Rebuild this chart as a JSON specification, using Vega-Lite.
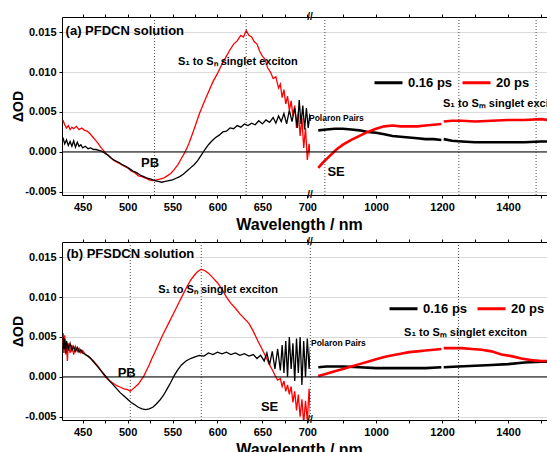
{
"$schema": "https://vega.github.io/schema/vega-lite/v6.json",
"padding": {"left": 11, "top": 12, "right": 0, "bottom": 26},
"background": "white",
"config": {
  "view": {"stroke": null},
  "font": "Liberation Sans",
  "axis": {"labelFont": "Liberation Sans", "labelFontWeight": "bold", "labelFontSize": 11, "labelColor": "black", "titleFont": "Liberation Sans", "titleFontWeight": "bold", "titleColor": "black", "domainColor": "black", "tickColor": "black", "gridColor": "#dadada", "tickSize": 3, "labelPadding": 3},
  "text": {"font": "Liberation Sans", "fontWeight": "bold", "color": "black"}
},
"datasets": {
"aL": [
{"t":"20 ps","w":428,"v":0.0040},{"t":"20 ps","w":430,"v":0.0034},{"t":"20 ps","w":432,"v":0.0030},{"t":"20 ps","w":434,"v":0.0033},{"t":"20 ps","w":436,"v":0.0028},{"t":"20 ps","w":438,"v":0.0031},{"t":"20 ps","w":440,"v":0.0029},{"t":"20 ps","w":443,"v":0.0032},{"t":"20 ps","w":446,"v":0.0028},{"t":"20 ps","w":449,"v":0.0030},{"t":"20 ps","w":452,"v":0.0027},{"t":"20 ps","w":455,"v":0.0026},{"t":"20 ps","w":458,"v":0.0023},{"t":"20 ps","w":461,"v":0.0019},{"t":"20 ps","w":464,"v":0.0015},{"t":"20 ps","w":467,"v":0.0011},{"t":"20 ps","w":470,"v":0.0006},{"t":"20 ps","w":473,"v":0.0002},{"t":"20 ps","w":476,"v":-0.0002},{"t":"20 ps","w":480,"v":-0.0006},{"t":"20 ps","w":484,"v":-0.0010},{"t":"20 ps","w":488,"v":-0.0013},{"t":"20 ps","w":492,"v":-0.0015},{"t":"20 ps","w":496,"v":-0.0018},{"t":"20 ps","w":500,"v":-0.0020},{"t":"20 ps","w":504,"v":-0.0024},{"t":"20 ps","w":508,"v":-0.0026},{"t":"20 ps","w":512,"v":-0.0030},{"t":"20 ps","w":516,"v":-0.0031},{"t":"20 ps","w":520,"v":-0.0033},{"t":"20 ps","w":524,"v":-0.0035},{"t":"20 ps","w":528,"v":-0.0036},{"t":"20 ps","w":532,"v":-0.0035},{"t":"20 ps","w":536,"v":-0.0034},{"t":"20 ps","w":540,"v":-0.0033},{"t":"20 ps","w":544,"v":-0.0030},{"t":"20 ps","w":548,"v":-0.0027},{"t":"20 ps","w":552,"v":-0.0022},{"t":"20 ps","w":556,"v":-0.0016},{"t":"20 ps","w":560,"v":-0.0008},{"t":"20 ps","w":564,"v":0.0000},{"t":"20 ps","w":568,"v":0.0010},{"t":"20 ps","w":572,"v":0.0022},{"t":"20 ps","w":576,"v":0.0035},{"t":"20 ps","w":580,"v":0.0048},{"t":"20 ps","w":585,"v":0.0062},{"t":"20 ps","w":590,"v":0.0075},{"t":"20 ps","w":595,"v":0.0088},{"t":"20 ps","w":600,"v":0.0098},{"t":"20 ps","w":605,"v":0.0110},{"t":"20 ps","w":610,"v":0.0120},{"t":"20 ps","w":614,"v":0.0128},{"t":"20 ps","w":618,"v":0.0135},{"t":"20 ps","w":622,"v":0.0139},{"t":"20 ps","w":626,"v":0.0146},{"t":"20 ps","w":629,"v":0.0144},{"t":"20 ps","w":632,"v":0.0152},{"t":"20 ps","w":635,"v":0.0146},{"t":"20 ps","w":638,"v":0.0144},{"t":"20 ps","w":641,"v":0.0138},{"t":"20 ps","w":644,"v":0.0135},{"t":"20 ps","w":647,"v":0.0126},{"t":"20 ps","w":650,"v":0.0120},{"t":"20 ps","w":653,"v":0.0116},{"t":"20 ps","w":656,"v":0.0105},{"t":"20 ps","w":659,"v":0.0100},{"t":"20 ps","w":662,"v":0.0092},{"t":"20 ps","w":665,"v":0.0094},{"t":"20 ps","w":668,"v":0.0080},{"t":"20 ps","w":670,"v":0.0085},{"t":"20 ps","w":672,"v":0.0068},{"t":"20 ps","w":674,"v":0.0078},{"t":"20 ps","w":676,"v":0.0060},{"t":"20 ps","w":678,"v":0.0070},{"t":"20 ps","w":680,"v":0.0052},{"t":"20 ps","w":682,"v":0.0064},{"t":"20 ps","w":684,"v":0.0045},{"t":"20 ps","w":686,"v":0.0058},{"t":"20 ps","w":688,"v":0.0030},{"t":"20 ps","w":690,"v":0.0050},{"t":"20 ps","w":692,"v":0.0020},{"t":"20 ps","w":694,"v":0.0042},{"t":"20 ps","w":696,"v":0.0005},{"t":"20 ps","w":698,"v":0.0030},{"t":"20 ps","w":700,"v":-0.0010},{"t":"20 ps","w":702,"v":0.0010},{"t":"20 ps","w":704,"v":-0.0012},
{"t":"0.16 ps","w":428,"v":0.0018},{"t":"0.16 ps","w":430,"v":0.0010},{"t":"0.16 ps","w":432,"v":0.0015},{"t":"0.16 ps","w":434,"v":0.0008},{"t":"0.16 ps","w":436,"v":0.0013},{"t":"0.16 ps","w":438,"v":0.0007},{"t":"0.16 ps","w":440,"v":0.0014},{"t":"0.16 ps","w":442,"v":0.0006},{"t":"0.16 ps","w":444,"v":0.0012},{"t":"0.16 ps","w":446,"v":0.0007},{"t":"0.16 ps","w":448,"v":0.0009},{"t":"0.16 ps","w":450,"v":0.0005},{"t":"0.16 ps","w":453,"v":0.0007},{"t":"0.16 ps","w":456,"v":0.0004},{"t":"0.16 ps","w":459,"v":0.0005},{"t":"0.16 ps","w":462,"v":0.0003},{"t":"0.16 ps","w":465,"v":0.0003},{"t":"0.16 ps","w":468,"v":0.0002},{"t":"0.16 ps","w":471,"v":0.0001},{"t":"0.16 ps","w":474,"v":-0.0001},{"t":"0.16 ps","w":478,"v":-0.0004},{"t":"0.16 ps","w":482,"v":-0.0008},{"t":"0.16 ps","w":486,"v":-0.0011},{"t":"0.16 ps","w":490,"v":-0.0013},{"t":"0.16 ps","w":494,"v":-0.0016},{"t":"0.16 ps","w":498,"v":-0.0018},{"t":"0.16 ps","w":502,"v":-0.0021},{"t":"0.16 ps","w":506,"v":-0.0024},{"t":"0.16 ps","w":510,"v":-0.0026},{"t":"0.16 ps","w":514,"v":-0.0029},{"t":"0.16 ps","w":518,"v":-0.0031},{"t":"0.16 ps","w":522,"v":-0.0033},{"t":"0.16 ps","w":526,"v":-0.0034},{"t":"0.16 ps","w":530,"v":-0.0036},{"t":"0.16 ps","w":534,"v":-0.0037},{"t":"0.16 ps","w":538,"v":-0.0038},{"t":"0.16 ps","w":542,"v":-0.0037},{"t":"0.16 ps","w":546,"v":-0.0036},{"t":"0.16 ps","w":550,"v":-0.0035},{"t":"0.16 ps","w":554,"v":-0.0033},{"t":"0.16 ps","w":558,"v":-0.0031},{"t":"0.16 ps","w":562,"v":-0.0028},{"t":"0.16 ps","w":566,"v":-0.0024},{"t":"0.16 ps","w":570,"v":-0.0020},{"t":"0.16 ps","w":574,"v":-0.0016},{"t":"0.16 ps","w":578,"v":-0.0011},{"t":"0.16 ps","w":582,"v":-0.0004},{"t":"0.16 ps","w":586,"v":0.0003},{"t":"0.16 ps","w":590,"v":0.0009},{"t":"0.16 ps","w":594,"v":0.0014},{"t":"0.16 ps","w":598,"v":0.0018},{"t":"0.16 ps","w":602,"v":0.0021},{"t":"0.16 ps","w":606,"v":0.0025},{"t":"0.16 ps","w":610,"v":0.0026},{"t":"0.16 ps","w":614,"v":0.0030},{"t":"0.16 ps","w":618,"v":0.0029},{"t":"0.16 ps","w":622,"v":0.0033},{"t":"0.16 ps","w":626,"v":0.0031},{"t":"0.16 ps","w":630,"v":0.0035},{"t":"0.16 ps","w":634,"v":0.0033},{"t":"0.16 ps","w":638,"v":0.0036},{"t":"0.16 ps","w":642,"v":0.0034},{"t":"0.16 ps","w":646,"v":0.0039},{"t":"0.16 ps","w":650,"v":0.0035},{"t":"0.16 ps","w":654,"v":0.0040},{"t":"0.16 ps","w":658,"v":0.0037},{"t":"0.16 ps","w":662,"v":0.0043},{"t":"0.16 ps","w":665,"v":0.0036},{"t":"0.16 ps","w":668,"v":0.0045},{"t":"0.16 ps","w":671,"v":0.0038},{"t":"0.16 ps","w":674,"v":0.0048},{"t":"0.16 ps","w":677,"v":0.0035},{"t":"0.16 ps","w":680,"v":0.0052},{"t":"0.16 ps","w":683,"v":0.0038},{"t":"0.16 ps","w":686,"v":0.0055},{"t":"0.16 ps","w":689,"v":0.0030},{"t":"0.16 ps","w":691,"v":0.0065},{"t":"0.16 ps","w":693,"v":0.0035},{"t":"0.16 ps","w":695,"v":0.0058},{"t":"0.16 ps","w":697,"v":0.0028},{"t":"0.16 ps","w":699,"v":0.0055},{"t":"0.16 ps","w":701,"v":0.0030},{"t":"0.16 ps","w":703,"v":0.0048},{"t":"0.16 ps","w":705,"v":0.0040}
],
"aR": [
{"t":"0.16 ps","g":1,"w":825,"v":0.0027},{"t":"0.16 ps","g":1,"w":850,"v":0.0028},{"t":"0.16 ps","g":1,"w":875,"v":0.0029},{"t":"0.16 ps","g":1,"w":900,"v":0.0029},{"t":"0.16 ps","g":1,"w":925,"v":0.0028},{"t":"0.16 ps","g":1,"w":950,"v":0.0027},{"t":"0.16 ps","g":1,"w":975,"v":0.0025},{"t":"0.16 ps","g":1,"w":1000,"v":0.0024},{"t":"0.16 ps","g":1,"w":1025,"v":0.0022},{"t":"0.16 ps","g":1,"w":1050,"v":0.0020},{"t":"0.16 ps","g":1,"w":1075,"v":0.0019},{"t":"0.16 ps","g":1,"w":1100,"v":0.0018},{"t":"0.16 ps","g":1,"w":1125,"v":0.0017},{"t":"0.16 ps","g":1,"w":1150,"v":0.0016},{"t":"0.16 ps","g":1,"w":1175,"v":0.0016},{"t":"0.16 ps","g":1,"w":1198,"v":0.0015},
{"t":"0.16 ps","g":2,"w":1205,"v":0.0016},{"t":"0.16 ps","g":2,"w":1230,"v":0.0014},{"t":"0.16 ps","g":2,"w":1260,"v":0.0013},{"t":"0.16 ps","g":2,"w":1300,"v":0.0012},{"t":"0.16 ps","g":2,"w":1350,"v":0.0012},{"t":"0.16 ps","g":2,"w":1400,"v":0.0012},{"t":"0.16 ps","g":2,"w":1450,"v":0.0012},{"t":"0.16 ps","g":2,"w":1500,"v":0.0013},{"t":"0.16 ps","g":2,"w":1520,"v":0.0013},
{"t":"20 ps","g":1,"w":825,"v":-0.0020},{"t":"20 ps","g":1,"w":840,"v":-0.0013},{"t":"20 ps","g":1,"w":860,"v":-0.0005},{"t":"20 ps","g":1,"w":880,"v":0.0003},{"t":"20 ps","g":1,"w":900,"v":0.0009},{"t":"20 ps","g":1,"w":925,"v":0.0015},{"t":"20 ps","g":1,"w":950,"v":0.0020},{"t":"20 ps","g":1,"w":975,"v":0.0025},{"t":"20 ps","g":1,"w":1000,"v":0.0029},{"t":"20 ps","g":1,"w":1025,"v":0.0032},{"t":"20 ps","g":1,"w":1050,"v":0.0033},{"t":"20 ps","g":1,"w":1075,"v":0.0032},{"t":"20 ps","g":1,"w":1100,"v":0.0032},{"t":"20 ps","g":1,"w":1125,"v":0.0032},{"t":"20 ps","g":1,"w":1150,"v":0.0033},{"t":"20 ps","g":1,"w":1175,"v":0.0034},{"t":"20 ps","g":1,"w":1198,"v":0.0035},
{"t":"20 ps","g":2,"w":1205,"v":0.0038},{"t":"20 ps","g":2,"w":1230,"v":0.0039},{"t":"20 ps","g":2,"w":1260,"v":0.0039},{"t":"20 ps","g":2,"w":1300,"v":0.0038},{"t":"20 ps","g":2,"w":1350,"v":0.0039},{"t":"20 ps","g":2,"w":1400,"v":0.0040},{"t":"20 ps","g":2,"w":1450,"v":0.0040},{"t":"20 ps","g":2,"w":1500,"v":0.0041},{"t":"20 ps","g":2,"w":1520,"v":0.0040}
],
"bL": [
{"t":"20 ps","w":428,"v":0.0050},{"t":"20 ps","w":429,"v":0.0030},{"t":"20 ps","w":430,"v":0.0052},{"t":"20 ps","w":431,"v":0.0028},{"t":"20 ps","w":432,"v":0.0045},{"t":"20 ps","w":433,"v":0.0020},{"t":"20 ps","w":434,"v":0.0042},{"t":"20 ps","w":436,"v":0.0030},{"t":"20 ps","w":438,"v":0.0040},{"t":"20 ps","w":440,"v":0.0028},{"t":"20 ps","w":442,"v":0.0038},{"t":"20 ps","w":444,"v":0.0032},{"t":"20 ps","w":446,"v":0.0036},{"t":"20 ps","w":448,"v":0.0030},{"t":"20 ps","w":450,"v":0.0033},{"t":"20 ps","w":453,"v":0.0028},{"t":"20 ps","w":456,"v":0.0026},{"t":"20 ps","w":459,"v":0.0023},{"t":"20 ps","w":462,"v":0.0020},{"t":"20 ps","w":465,"v":0.0016},{"t":"20 ps","w":468,"v":0.0012},{"t":"20 ps","w":471,"v":0.0007},{"t":"20 ps","w":474,"v":0.0002},{"t":"20 ps","w":477,"v":-0.0002},{"t":"20 ps","w":480,"v":-0.0005},{"t":"20 ps","w":484,"v":-0.0008},{"t":"20 ps","w":488,"v":-0.0011},{"t":"20 ps","w":492,"v":-0.0013},{"t":"20 ps","w":496,"v":-0.0015},{"t":"20 ps","w":500,"v":-0.0016},{"t":"20 ps","w":503,"v":-0.0018},{"t":"20 ps","w":506,"v":-0.0015},{"t":"20 ps","w":509,"v":-0.0012},{"t":"20 ps","w":512,"v":-0.0009},{"t":"20 ps","w":515,"v":-0.0004},{"t":"20 ps","w":518,"v":0.0001},{"t":"20 ps","w":521,"v":0.0008},{"t":"20 ps","w":524,"v":0.0015},{"t":"20 ps","w":527,"v":0.0023},{"t":"20 ps","w":530,"v":0.0030},{"t":"20 ps","w":534,"v":0.0040},{"t":"20 ps","w":538,"v":0.0050},{"t":"20 ps","w":542,"v":0.0059},{"t":"20 ps","w":546,"v":0.0068},{"t":"20 ps","w":550,"v":0.0077},{"t":"20 ps","w":554,"v":0.0086},{"t":"20 ps","w":558,"v":0.0095},{"t":"20 ps","w":562,"v":0.0104},{"t":"20 ps","w":566,"v":0.0113},{"t":"20 ps","w":570,"v":0.0121},{"t":"20 ps","w":574,"v":0.0127},{"t":"20 ps","w":578,"v":0.0132},{"t":"20 ps","w":582,"v":0.0135},{"t":"20 ps","w":586,"v":0.0133},{"t":"20 ps","w":590,"v":0.0130},{"t":"20 ps","w":595,"v":0.0124},{"t":"20 ps","w":600,"v":0.0118},{"t":"20 ps","w":605,"v":0.0110},{"t":"20 ps","w":610,"v":0.0100},{"t":"20 ps","w":615,"v":0.0092},{"t":"20 ps","w":620,"v":0.0086},{"t":"20 ps","w":625,"v":0.0079},{"t":"20 ps","w":630,"v":0.0073},{"t":"20 ps","w":635,"v":0.0067},{"t":"20 ps","w":640,"v":0.0057},{"t":"20 ps","w":645,"v":0.0045},{"t":"20 ps","w":650,"v":0.0034},{"t":"20 ps","w":654,"v":0.0025},{"t":"20 ps","w":658,"v":0.0015},{"t":"20 ps","w":661,"v":0.0009},{"t":"20 ps","w":664,"v":0.0002},{"t":"20 ps","w":667,"v":-0.0004},{"t":"20 ps","w":670,"v":-0.0002},{"t":"20 ps","w":672,"v":-0.0012},{"t":"20 ps","w":674,"v":-0.0005},{"t":"20 ps","w":676,"v":-0.0018},{"t":"20 ps","w":678,"v":-0.0010},{"t":"20 ps","w":680,"v":-0.0022},{"t":"20 ps","w":682,"v":-0.0012},{"t":"20 ps","w":684,"v":-0.0032},{"t":"20 ps","w":686,"v":-0.0018},{"t":"20 ps","w":688,"v":-0.0042},{"t":"20 ps","w":690,"v":-0.0022},{"t":"20 ps","w":692,"v":-0.0050},{"t":"20 ps","w":694,"v":-0.0028},{"t":"20 ps","w":696,"v":-0.0058},{"t":"20 ps","w":698,"v":-0.0030},{"t":"20 ps","w":700,"v":-0.0055},{"t":"20 ps","w":702,"v":-0.0015},{"t":"20 ps","w":704,"v":-0.0058},
{"t":"0.16 ps","w":428,"v":0.0055},{"t":"0.16 ps","w":429,"v":0.0035},{"t":"0.16 ps","w":430,"v":0.0048},{"t":"0.16 ps","w":431,"v":0.0030},{"t":"0.16 ps","w":432,"v":0.0045},{"t":"0.16 ps","w":434,"v":0.0035},{"t":"0.16 ps","w":436,"v":0.0042},{"t":"0.16 ps","w":438,"v":0.0033},{"t":"0.16 ps","w":440,"v":0.0038},{"t":"0.16 ps","w":442,"v":0.0032},{"t":"0.16 ps","w":444,"v":0.0037},{"t":"0.16 ps","w":446,"v":0.0031},{"t":"0.16 ps","w":448,"v":0.0034},{"t":"0.16 ps","w":450,"v":0.0030},{"t":"0.16 ps","w":453,"v":0.0028},{"t":"0.16 ps","w":456,"v":0.0026},{"t":"0.16 ps","w":459,"v":0.0023},{"t":"0.16 ps","w":462,"v":0.0019},{"t":"0.16 ps","w":465,"v":0.0015},{"t":"0.16 ps","w":468,"v":0.0011},{"t":"0.16 ps","w":471,"v":0.0007},{"t":"0.16 ps","w":474,"v":0.0003},{"t":"0.16 ps","w":477,"v":-0.0001},{"t":"0.16 ps","w":480,"v":-0.0005},{"t":"0.16 ps","w":484,"v":-0.0010},{"t":"0.16 ps","w":488,"v":-0.0015},{"t":"0.16 ps","w":492,"v":-0.0020},{"t":"0.16 ps","w":496,"v":-0.0024},{"t":"0.16 ps","w":500,"v":-0.0028},{"t":"0.16 ps","w":504,"v":-0.0032},{"t":"0.16 ps","w":508,"v":-0.0035},{"t":"0.16 ps","w":512,"v":-0.0038},{"t":"0.16 ps","w":516,"v":-0.0040},{"t":"0.16 ps","w":520,"v":-0.0041},{"t":"0.16 ps","w":524,"v":-0.0040},{"t":"0.16 ps","w":528,"v":-0.0038},{"t":"0.16 ps","w":532,"v":-0.0034},{"t":"0.16 ps","w":536,"v":-0.0029},{"t":"0.16 ps","w":540,"v":-0.0023},{"t":"0.16 ps","w":544,"v":-0.0015},{"t":"0.16 ps","w":548,"v":-0.0007},{"t":"0.16 ps","w":552,"v":0.0002},{"t":"0.16 ps","w":556,"v":0.0009},{"t":"0.16 ps","w":560,"v":0.0015},{"t":"0.16 ps","w":565,"v":0.0020},{"t":"0.16 ps","w":570,"v":0.0023},{"t":"0.16 ps","w":575,"v":0.0025},{"t":"0.16 ps","w":580,"v":0.0027},{"t":"0.16 ps","w":585,"v":0.0026},{"t":"0.16 ps","w":590,"v":0.0030},{"t":"0.16 ps","w":595,"v":0.0028},{"t":"0.16 ps","w":600,"v":0.0031},{"t":"0.16 ps","w":605,"v":0.0029},{"t":"0.16 ps","w":610,"v":0.0031},{"t":"0.16 ps","w":615,"v":0.0028},{"t":"0.16 ps","w":620,"v":0.0030},{"t":"0.16 ps","w":625,"v":0.0027},{"t":"0.16 ps","w":630,"v":0.0029},{"t":"0.16 ps","w":635,"v":0.0026},{"t":"0.16 ps","w":640,"v":0.0028},{"t":"0.16 ps","w":644,"v":0.0023},{"t":"0.16 ps","w":648,"v":0.0027},{"t":"0.16 ps","w":652,"v":0.0020},{"t":"0.16 ps","w":655,"v":0.0030},{"t":"0.16 ps","w":658,"v":0.0015},{"t":"0.16 ps","w":661,"v":0.0032},{"t":"0.16 ps","w":664,"v":0.0010},{"t":"0.16 ps","w":667,"v":0.0035},{"t":"0.16 ps","w":670,"v":0.0008},{"t":"0.16 ps","w":672,"v":0.0040},{"t":"0.16 ps","w":674,"v":0.0005},{"t":"0.16 ps","w":676,"v":0.0045},{"t":"0.16 ps","w":678,"v":0.0000},{"t":"0.16 ps","w":680,"v":0.0050},{"t":"0.16 ps","w":682,"v":0.0010},{"t":"0.16 ps","w":684,"v":0.0042},{"t":"0.16 ps","w":686,"v":-0.0005},{"t":"0.16 ps","w":688,"v":0.0048},{"t":"0.16 ps","w":690,"v":0.0005},{"t":"0.16 ps","w":692,"v":0.0050},{"t":"0.16 ps","w":694,"v":-0.0010},{"t":"0.16 ps","w":696,"v":0.0045},{"t":"0.16 ps","w":698,"v":0.0000},{"t":"0.16 ps","w":700,"v":0.0048},{"t":"0.16 ps","w":702,"v":0.0010},{"t":"0.16 ps","w":704,"v":0.0045}
],
"bR": [
{"t":"0.16 ps","g":1,"w":825,"v":0.0012},{"t":"0.16 ps","g":1,"w":850,"v":0.0013},{"t":"0.16 ps","g":1,"w":900,"v":0.0013},{"t":"0.16 ps","g":1,"w":950,"v":0.0012},{"t":"0.16 ps","g":1,"w":1000,"v":0.0011},{"t":"0.16 ps","g":1,"w":1050,"v":0.0011},{"t":"0.16 ps","g":1,"w":1100,"v":0.0011},{"t":"0.16 ps","g":1,"w":1150,"v":0.0011},{"t":"0.16 ps","g":1,"w":1198,"v":0.0012},
{"t":"0.16 ps","g":2,"w":1205,"v":0.0012},{"t":"0.16 ps","g":2,"w":1250,"v":0.0013},{"t":"0.16 ps","g":2,"w":1300,"v":0.0014},{"t":"0.16 ps","g":2,"w":1350,"v":0.0015},{"t":"0.16 ps","g":2,"w":1400,"v":0.0016},{"t":"0.16 ps","g":2,"w":1450,"v":0.0018},{"t":"0.16 ps","g":2,"w":1500,"v":0.0019},{"t":"0.16 ps","g":2,"w":1520,"v":0.0019},
{"t":"20 ps","g":1,"w":825,"v":0.0001},{"t":"20 ps","g":1,"w":850,"v":0.0004},{"t":"20 ps","g":1,"w":875,"v":0.0007},{"t":"20 ps","g":1,"w":900,"v":0.0010},{"t":"20 ps","g":1,"w":925,"v":0.0013},{"t":"20 ps","g":1,"w":950,"v":0.0016},{"t":"20 ps","g":1,"w":975,"v":0.0019},{"t":"20 ps","g":1,"w":1000,"v":0.0022},{"t":"20 ps","g":1,"w":1025,"v":0.0025},{"t":"20 ps","g":1,"w":1050,"v":0.0027},{"t":"20 ps","g":1,"w":1075,"v":0.0029},{"t":"20 ps","g":1,"w":1100,"v":0.0031},{"t":"20 ps","g":1,"w":1125,"v":0.0032},{"t":"20 ps","g":1,"w":1150,"v":0.0033},{"t":"20 ps","g":1,"w":1175,"v":0.0034},{"t":"20 ps","g":1,"w":1198,"v":0.0035},
{"t":"20 ps","g":2,"w":1205,"v":0.0036},{"t":"20 ps","g":2,"w":1230,"v":0.0036},{"t":"20 ps","g":2,"w":1260,"v":0.0036},{"t":"20 ps","g":2,"w":1290,"v":0.0035},{"t":"20 ps","g":2,"w":1320,"v":0.0034},{"t":"20 ps","g":2,"w":1350,"v":0.0032},{"t":"20 ps","g":2,"w":1380,"v":0.0028},{"t":"20 ps","g":2,"w":1410,"v":0.0026},{"t":"20 ps","g":2,"w":1440,"v":0.0023},{"t":"20 ps","g":2,"w":1470,"v":0.0021},{"t":"20 ps","g":2,"w":1500,"v":0.0020},{"t":"20 ps","g":2,"w":1520,"v":0.0020}
]
},
"spacing": 5,
"resolve": {"scale": {"color": "independent"}},
"vconcat": [
{
"hconcat": [
{
"width": 248, "height": 178,
"data": {"name": "aL"},
"layer": [
{"mark": {"type": "line", "strokeWidth": 1.3, "clip": true}, "encoding": {
  "x": {"field": "w", "type": "quantitative", "scale": {"domain": [427, 703], "nice": false, "zero": false}, "axis": {"orient": "bottom", "values": [450,475,500,525,550,575,600,625,650,675,700], "format": "d", "labelExpr": "datum.value % 50 == 0 ? datum.label : ''", "title": "Wavelength / nm", "titleFontSize": 16, "titleX": 237, "titleAlign": "center", "grid": false}},
  "y": {"field": "v", "type": "quantitative", "scale": {"domain": [-0.0054, 0.0169], "nice": false, "zero": false}, "axis": {"values": [-0.005, -0.0025, 0, 0.0025, 0.005, 0.0075, 0.01, 0.0125, 0.015], "labelExpr": "datum.value == 0.015 ? '0.015' : datum.value == 0.01 ? '0.010' : datum.value == 0.005 ? '0.005' : datum.value == 0 ? '0.000' : datum.value == -0.005 ? '-0.005' : ''", "title": "ΔOD", "titleFontSize": 14, "titlePadding": -1, "grid": true}},
  "color": {"field": "t", "type": "nominal", "scale": {"domain": ["0.16 ps", "20 ps"], "range": ["#000000", "#ff0000"]}, "legend": null}}},
{"data": {"values": [{"z": 0}]}, "mark": {"type": "rule", "color": "black", "strokeWidth": 1}, "encoding": {"y": {"field": "z", "type": "quantitative"}}},
{"data": {"values": [{"w": 530}, {"w": 632}]}, "mark": {"type": "rule", "color": "#222", "strokeWidth": 0.8, "strokeDash": [1, 2]}, "encoding": {"x": {"field": "w", "type": "quantitative", "axis": {"orient": "top", "values": [450,475,500,525,550,575,600,625,650,675,700], "labels": false, "title": null, "grid": false}}}},
{"data": {"values": [{"w": 431, "v": 0.0152, "s": "(a) PFDCN solution"}]}, "mark": {"type": "text", "align": "left", "baseline": "middle", "fontSize": 13}, "encoding": {"x": {"field": "w", "type": "quantitative", "axis": null}, "y": {"field": "v", "type": "quantitative"}, "text": {"field": "s"}}},
{"data": {"values": [{"w": 556, "v": 0.0113, "s": "S₁ to Sₙ singlet exciton"}]}, "mark": {"type": "text", "align": "left", "baseline": "middle", "fontSize": 11}, "encoding": {"x": {"field": "w", "type": "quantitative", "axis": null}, "y": {"field": "v", "type": "quantitative"}, "text": {"field": "s"}}},
{"data": {"values": [{"w": 525, "v": -0.0014, "s": "PB"}]}, "mark": {"type": "text", "align": "center", "baseline": "middle", "fontSize": 13}, "encoding": {"x": {"field": "w", "type": "quantitative", "axis": null}, "y": {"field": "v", "type": "quantitative"}, "text": {"field": "s"}}}
]
},
{
"width": 237, "height": 178,
"data": {"name": "aR"},
"layer": [
{"mark": {"type": "line", "strokeWidth": 2.6, "clip": true}, "encoding": {
  "x": {"field": "w", "type": "quantitative", "scale": {"domain": [800, 1518], "nice": false, "zero": false}, "axis": {"orient": "bottom", "values": [900,1000,1100,1200,1300,1400,1500], "format": "d", "labelExpr": "datum.value % 200 == 0 ? datum.label : ''", "title": null, "grid": false}},
  "y": {"field": "v", "type": "quantitative", "scale": {"domain": [-0.0054, 0.0169], "nice": false, "zero": false}, "axis": {"values": [-0.005, 0, 0.005, 0.01, 0.015], "labels": false, "ticks": false, "domain": false, "title": null, "grid": true}},
  "detail": {"field": "g"},
  "color": {"field": "t", "type": "nominal", "scale": {"domain": ["0.16 ps", "20 ps"], "range": ["#000000", "#ff0000"]}, "legend": {"orient": "none", "legendX": 63, "legendY": 50, "direction": "horizontal", "title": null, "symbolType": "stroke", "symbolSize": 784, "symbolStrokeWidth": 3, "labelFontSize": 13, "labelFontWeight": "bold", "labelFont": "Liberation Sans", "labelColor": "black", "labelOffset": 4, "columnPadding": 3}}}},
{"data": {"values": [{"z": 0}]}, "mark": {"type": "rule", "color": "black", "strokeWidth": 1}, "encoding": {"y": {"field": "z", "type": "quantitative"}}},
{"data": {"values": [{"w": 845}, {"w": 1251}, {"w": 1485}]}, "mark": {"type": "rule", "color": "#222", "strokeWidth": 0.8, "strokeDash": [1, 2]}, "encoding": {"x": {"field": "w", "type": "quantitative", "axis": {"orient": "top", "values": [900,1000,1100,1200,1300,1400,1500], "labels": false, "title": null, "grid": false}}}},
{"data": {"values": [{"w": 797, "v": 0.0043, "s": "Polaron Pairs"}]}, "mark": {"type": "text", "align": "left", "baseline": "middle", "fontSize": 8.5}, "encoding": {"x": {"field": "w", "type": "quantitative", "axis": null}, "y": {"field": "v", "type": "quantitative"}, "text": {"field": "s"}}},
{"data": {"values": [{"w": 879, "v": -0.0025, "s": "SE"}]}, "mark": {"type": "text", "align": "center", "baseline": "middle", "fontSize": 13}, "encoding": {"x": {"field": "w", "type": "quantitative", "axis": null}, "y": {"field": "v", "type": "quantitative"}, "text": {"field": "s"}}},
{"data": {"values": [{"w": 1203, "v": 0.006, "s": "S₁ to Sₘ singlet exciton"}]}, "mark": {"type": "text", "align": "left", "baseline": "middle", "fontSize": 11, "clip": true}, "encoding": {"x": {"field": "w", "type": "quantitative", "axis": null}, "y": {"field": "v", "type": "quantitative"}, "text": {"field": "s"}}},
{"data": {"values": [{"w": 800, "v": 0.0169, "s": "//"}, {"w": 800, "v": -0.0054, "s": "//"}]}, "mark": {"type": "text", "align": "center", "baseline": "middle", "fontSize": 10}, "encoding": {"x": {"field": "w", "type": "quantitative", "axis": null}, "y": {"field": "v", "type": "quantitative"}, "text": {"field": "s"}}}
]
}
],
"spacing": 0, "bounds": "flush",
"resolve": {"scale": {"color": "independent"}}
},
{
"hconcat": [
{
"width": 248, "height": 178,
"data": {"name": "bL"},
"layer": [
{"mark": {"type": "line", "strokeWidth": 1.3, "clip": true}, "encoding": {
  "x": {"field": "w", "type": "quantitative", "scale": {"domain": [427, 703], "nice": false, "zero": false}, "axis": {"orient": "bottom", "values": [450,475,500,525,550,575,600,625,650,675,700], "format": "d", "labelExpr": "datum.value % 50 == 0 ? datum.label : ''", "title": "Wavelength / nm", "titleFontSize": 16, "titleX": 237, "titleAlign": "center", "grid": false}},
  "y": {"field": "v", "type": "quantitative", "scale": {"domain": [-0.0054, 0.0169], "nice": false, "zero": false}, "axis": {"values": [-0.005, -0.0025, 0, 0.0025, 0.005, 0.0075, 0.01, 0.0125, 0.015], "labelExpr": "datum.value == 0.015 ? '0.015' : datum.value == 0.01 ? '0.010' : datum.value == 0.005 ? '0.005' : datum.value == 0 ? '0.000' : datum.value == -0.005 ? '-0.005' : ''", "title": "ΔOD", "titleFontSize": 14, "titlePadding": -1, "grid": true}},
  "color": {"field": "t", "type": "nominal", "scale": {"domain": ["0.16 ps", "20 ps"], "range": ["#000000", "#ff0000"]}, "legend": null}}},
{"data": {"values": [{"z": 0}]}, "mark": {"type": "rule", "color": "black", "strokeWidth": 1}, "encoding": {"y": {"field": "z", "type": "quantitative"}}},
{"data": {"values": [{"w": 503}, {"w": 582}]}, "mark": {"type": "rule", "color": "#222", "strokeWidth": 0.8, "strokeDash": [1, 2]}, "encoding": {"x": {"field": "w", "type": "quantitative", "axis": {"orient": "top", "values": [450,475,500,525,550,575,600,625,650,675,700], "labels": false, "title": null, "grid": false}}}},
{"data": {"values": [{"w": 432, "v": 0.0154, "s": "(b) PFSDCN solution"}]}, "mark": {"type": "text", "align": "left", "baseline": "middle", "fontSize": 13}, "encoding": {"x": {"field": "w", "type": "quantitative", "axis": null}, "y": {"field": "v", "type": "quantitative"}, "text": {"field": "s"}}},
{"data": {"values": [{"w": 534, "v": 0.0109, "s": "S₁ to Sₙ singlet exciton"}]}, "mark": {"type": "text", "align": "left", "baseline": "middle", "fontSize": 11}, "encoding": {"x": {"field": "w", "type": "quantitative", "axis": null}, "y": {"field": "v", "type": "quantitative"}, "text": {"field": "s"}}},
{"data": {"values": [{"w": 499, "v": 0.0005, "s": "PB"}, {"w": 658, "v": -0.0038, "s": "SE"}]}, "mark": {"type": "text", "align": "center", "baseline": "middle", "fontSize": 13}, "encoding": {"x": {"field": "w", "type": "quantitative", "axis": null}, "y": {"field": "v", "type": "quantitative"}, "text": {"field": "s"}}}
]
},
{
"width": 237, "height": 178,
"data": {"name": "bR"},
"layer": [
{"mark": {"type": "line", "strokeWidth": 2.6, "clip": true}, "encoding": {
  "x": {"field": "w", "type": "quantitative", "scale": {"domain": [800, 1518], "nice": false, "zero": false}, "axis": {"orient": "bottom", "values": [900,1000,1100,1200,1300,1400,1500], "format": "d", "labelExpr": "datum.value % 200 == 0 ? datum.label : ''", "title": null, "grid": false}},
  "y": {"field": "v", "type": "quantitative", "scale": {"domain": [-0.0054, 0.0169], "nice": false, "zero": false}, "axis": {"values": [-0.005, 0, 0.005, 0.01, 0.015], "labels": false, "ticks": false, "domain": false, "title": null, "grid": true}},
  "detail": {"field": "g"},
  "color": {"field": "t", "type": "nominal", "scale": {"domain": ["0.16 ps", "20 ps"], "range": ["#000000", "#ff0000"]}, "legend": {"orient": "none", "legendX": 78, "legendY": 51, "direction": "horizontal", "title": null, "symbolType": "stroke", "symbolSize": 784, "symbolStrokeWidth": 3, "labelFontSize": 13, "labelFontWeight": "bold", "labelFont": "Liberation Sans", "labelColor": "black", "labelOffset": 4, "columnPadding": 3}}}},
{"data": {"values": [{"z": 0}]}, "mark": {"type": "rule", "color": "black", "strokeWidth": 1}, "encoding": {"y": {"field": "z", "type": "quantitative"}}},
{"data": {"values": [{"w": 801}, {"w": 1250}]}, "mark": {"type": "rule", "color": "#222", "strokeWidth": 0.8, "strokeDash": [1, 2]}, "encoding": {"x": {"field": "w", "type": "quantitative", "axis": {"orient": "top", "values": [900,1000,1100,1200,1300,1400,1500], "labels": false, "title": null, "grid": false}}}},
{"data": {"values": [{"w": 803, "v": 0.0042, "s": "Polaron Pairs"}]}, "mark": {"type": "text", "align": "left", "baseline": "middle", "fontSize": 8.5}, "encoding": {"x": {"field": "w", "type": "quantitative", "axis": null}, "y": {"field": "v", "type": "quantitative"}, "text": {"field": "s"}}},
{"data": {"values": [{"w": 1085, "v": 0.0055, "s": "S₁ to Sₘ singlet exciton"}]}, "mark": {"type": "text", "align": "left", "baseline": "middle", "fontSize": 11, "clip": true}, "encoding": {"x": {"field": "w", "type": "quantitative", "axis": null}, "y": {"field": "v", "type": "quantitative"}, "text": {"field": "s"}}},
{"data": {"values": [{"w": 800, "v": 0.0169, "s": "//"}, {"w": 800, "v": -0.0054, "s": "//"}]}, "mark": {"type": "text", "align": "center", "baseline": "middle", "fontSize": 10}, "encoding": {"x": {"field": "w", "type": "quantitative", "axis": null}, "y": {"field": "v", "type": "quantitative"}, "text": {"field": "s"}}}
]
}
],
"spacing": 0, "bounds": "flush",
"resolve": {"scale": {"color": "independent"}}
}
]
}
